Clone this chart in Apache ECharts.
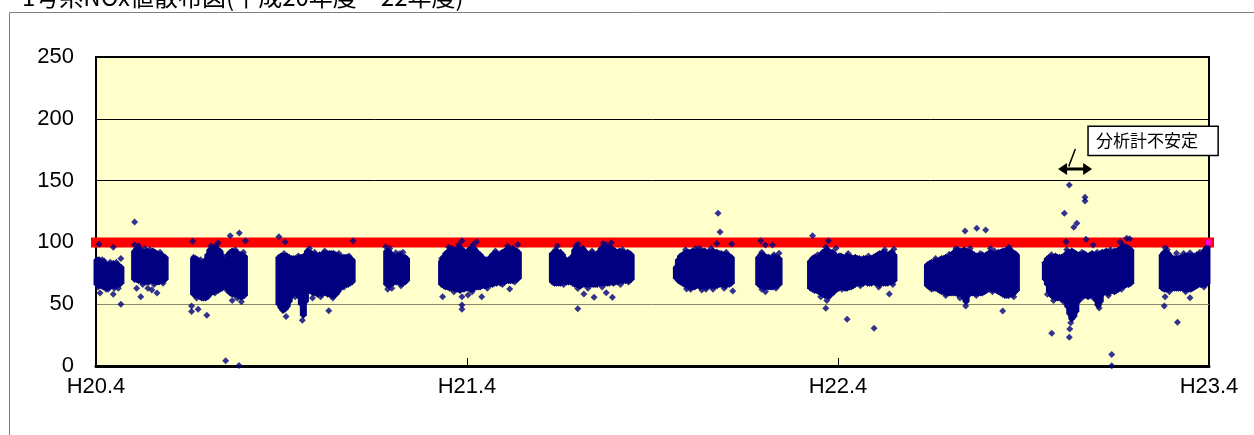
<!DOCTYPE html>
<html><head><meta charset="utf-8">
<script src="https://cdn.jsdelivr.net/npm/echarts@6/dist/echarts.min.js"></script>
<style>html,body{margin:0;padding:0;background:#fff;}#c{width:1254px;height:435px;}</style>
</head><body><div id="c"></div>
<script>
// ---- data (x = days since H20.4.1, y = NOx value) ----
const title = '1号系NOx値散布図(平成20年度～22年度)';
const xLabels = ['H20.4', 'H21.4', 'H22.4', 'H23.4'];
const yTicks = [0, 50, 100, 150, 200, 250];
const limitLine = [[0, 100], [1095, 100]];
const noteText = '分析計不安定';
const noteArrow = [[946.5, 159.4], [980, 159.4]];
const noteLeader = [[957, 161.5], [963.5, 175.6]];
const noteBox = [[976, 194], [1104, 170.4]];

// dense bands of hourly readings: [day, lowest, highest]
const c1 = [[1,66,86],[3,65,86],[5,65,84],[7,64,83],[9,64,83],[11,64,82],[13,64,82],[15,65,82],[17,65,83],[19,65,82],[21,66,82],[23,66,81],[24.5,67,80]];
const c2 = [[38,70,93],[40,70,95],[42,69,95],[44,69,94],[46,68,92],[48,68,92],[50,68,93],[52,68,92],[54,69,92],[56,69,93],[58,68,92],[60,68,91],[62,68,90],[64,69,90],[66,69,89],[68,70,88]];
const c3 = [[96,58,87],[98,57,87],[100,57,86],[102,56,84],[104,55,79],[106,55,79],[108,55,86],[110,56,90],[112,58,94],[114,60,95],[116,60,96],[118,61,95],[120,61,94],[122,62,93],[124,63,87],[126,65,85],[128,64,86],[130,62,90],[132,59,92],[134,58,93],[136,58,92],[138,58,92],[140,57,91],[142,56,90],[144,56,90],[146,57,89]];
const c4 = [[180,50,88],[182,47,89],[184,45,89],[186,46,89],[188,48,89],[190,52,88],[192,57,87],[194,58,87],[196,59,87],[198,58,87],[200,56,88],[202,50,88],[204,41,88],[206,52,90],[208,60,93],[210,61,92],[212,60,91],[214,59,90],[216,59,90],[218,58,89],[220,59,90],[222,58,90],[224,59,91],[226,59,91],[228,58,91],[230,58,91],[232,57,91],[234,57,91],[236,58,90],[238,60,89],[240,63,88],[242,64,88],[244,66,88],[246,66,88],[248,66,88],[250,67,87],[252,68,86]];
const c5 = [[286,66,93],[288,65,93],[290,66,91],[292,67,89],[294,68,88],[296,68,89],[298,68,89],[300,67,89],[302,67,88],[304,68,88],[305.5,69,87]];
const c6 = [[340,66,85],[342,65,88],[344,64,91],[346,64,92],[348,63,94],[350,63,95],[352,63,94],[354,62,94],[356,62,95],[358,61,96],[360,62,94],[362,62,93],[364,63,92],[366,63,93],[368,62,95],[370,62,96],[372,63,95],[374,64,93],[376,64,91],[378,64,90],[380,65,88],[382,65,86],[384,65,86],[386,66,86],[388,66,88],[390,66,90],[392,67,91],[394,67,91],[396,68,90],[398,67,91],[400,68,92],[402,68,93],[404,69,94],[406,69,95],[408,69,94],[410,69,95],[412,70,94],[414,70,93],[415.5,71,92]];
const c7 = [[449,68,91],[451,67,92],[453,67,93],[455,67,92],[457,67,92],[459,68,90],[461,68,87],[463,68,85],[465,68,86],[467,68,86],[469,67,89],[471,66,94],[473,66,95],[475,65,95],[477,65,94],[479,66,95],[481,66,93],[483,66,91],[485,66,90],[487,66,91],[489,66,91],[491,66,90],[493,66,91],[495,67,92],[497,67,95],[499,67,96],[501,67,96],[503,67,95],[505,67,96],[507,68,95],[509,67,94],[511,68,93],[513,68,92],[515,69,93],[517,69,92],[519,69,92],[521,69,91],[523,69,92],[525,70,91],[526.5,70,90]];
const c8 = [[571,71,80],[573,69,86],[575,68,89],[577,67,90],[579,66,91],[581,65,92],[583,65,92],[585,64,92],[587,64,93],[589,64,92],[591,65,93],[593,65,93],[595,64,92],[597,65,93],[599,65,93],[601,64,92],[603,65,92],[605,65,92],[607,65,93],[609,65,92],[611,65,92],[613,66,91],[615,66,91],[617,66,90],[619,65,90],[621,66,90],[623,66,89],[625,67,88]];
const c9 = [[652,66,88],[654,65,90],[656,64,90],[658,64,89],[660,64,88],[662,64,88],[664,64,87],[666,64,88],[668,65,88],[670,65,88],[672,66,87]];
const c10 = [[703,63,85],[705,62,87],[707,61,88],[709,61,87],[711,60,88],[713,59,90],[715,58,92],[717,57,93],[719,57,94],[721,56,93],[723,58,92],[725,59,92],[727,61,90],[729,62,88],[731,63,89],[733,64,89],[735,64,88],[737,63,88],[739,63,89],[741,64,88],[743,64,88],[745,65,87],[747,66,88],[749,67,87],[751,67,87],[753,67,86],[755,67,87],[757,68,87],[759,67,86],[761,67,87],[763,67,87],[765,68,88],[767,67,89],[769,67,90],[771,66,91],[773,67,91],[775,67,92],[777,67,91],[779,67,90],[781,68,91],[783,68,92],[785,69,90]];
const c11 = [[818,65,82],[820,64,83],[822,64,84],[824,63,84],[826,63,85],[828,62,85],[830,61,86],[832,60,87],[834,60,87],[836,59,88],[838,59,87],[840,59,89],[842,59,90],[844,59,92],[846,59,93],[848,58,94],[850,59,93],[852,58,93],[854,55,94],[856,52,93],[858,57,92],[860,59,92],[862,59,91],[864,59,90],[866,59,89],[868,59,89],[870,59,89],[872,59,90],[874,60,89],[876,61,90],[878,62,91],[880,62,92],[882,62,91],[884,62,90],[886,61,91],[888,60,92],[890,59,92],[892,58,93],[894,57,93],[896,57,94],[898,57,93],[900,58,93],[902,58,92],[904,60,91],[905.5,61,90]];
const c12 = [[934,70,84],[936,66,87],[938,60,88],[940,57,88],[942,56,88],[944,55,89],[946,55,88],[948,55,88],[950,54,88],[952,54,89],[954,53,90],[956,48,92],[958,42,92],[960,38,93],[962,40,92],[964,44,91],[966,52,90],[968,56,90],[970,57,89],[972,57,91],[974,57,90],[976,56,89],[978,57,90],[980,58,91],[982,57,90],[984,53,90],[986,49,90],[988,52,91],[990,58,92],[992,60,92],[994,60,93],[996,59,92],[998,60,92],[1000,61,91],[1002,60,93],[1004,61,93],[1006,62,94],[1008,64,95],[1010,65,96],[1012,65,95],[1014,66,96],[1016,66,95],[1018,67,94]];
const c13 = [[1049,63,90],[1051,62,92],[1053,62,92],[1055,62,91],[1057,63,89],[1059,63,87],[1061,63,87],[1063,63,87],[1065,63,87],[1067,63,88],[1069,63,88],[1071,62,89],[1073,62,89],[1075,62,89],[1077,62,89],[1079,63,89],[1081,64,89],[1083,65,90],[1085,66,90],[1087,66,89],[1089,66,91],[1091,66,94],[1093,67,96]];

// individual readings outside the dense bands: [day, value]
const scattered = [
  [3,98.5],[17,96],[24.5,87],[4,59],[17,58],[24.5,50],[1,70],[2,64],[12,62],[22,63],[6,86],[8,85],[14,84],[20,84],[10,62],[18,63],
  [38,116.5],[38,98],[40,63],[44,56],[51,63],[55,61.5],[60,59],[59,91],[66,87],[48,95],[42,97],[53,94],[63,92],[46,66],[57,66],[66,67],
  [95,101],[132,105.4],[141,107.6],[147,101.4],[120,99.8],[94,48.5],[94,44],[100.5,46],[109,41],[127.6,4.3],[140.7,0.5],[96,88],[145,92],[118,97],[134,53],[143,52],
  [103,86],[113,97],[125,89],[137,94],[99,55],[117,59],[129,61],[139,55],
  [180,104.6],[186,100.3],[253,101.4],[187,40],[203,37],[229,44.7],[191,55],[213,55],[236,58],[250,68],[210,95],[247,84],
  [185,91],[199,89],[215,92],[225,93],[239,91],[249,89],[196,56],[221,56],[233,55],[244,64],
  [285,96.5],[295,91.7],[302,92],[287,62],[305,71],[289,95],[299,91],[291,63],[300,65],
  [360,101.4],[374.5,100.6],[415,98.4],[340,87],[341,56],[360,56],[360,49.4],[360,45.9],[366,57.4],[379.5,56],[407,62.3],[395,68],
  [347,96],[357,98],[371,98],[393,93],[405,97],[352,60],[370,60],[385,63],[400,66],[412,68],
  [454,97],[474,98.7],[499,99.2],[507,99.8],[474,62.8],[480,58.3],[490,55.6],[474,46.4],[502,59.3],[508,55.6],
  [452,94],[472,97],[488,93],[502,98],[518,94],[460,66],[484,63],[498,64],[516,66],[524,68],
  [612,123.5],[614,108.4],[610.7,99.2],[625.5,98.7],[581,62.3],[596,61.5],[607,62],[626.5,60.7],[590,95],
  [580,94],[594,95],[605,95],[620,92],[585,62],[600,62],[618,63],
  [654,101.4],[658.6,97.9],[665.6,97.9],[672,91.2],[658.6,60],[655,92],[667,90],[655,62],[669,63],
  [705,105.4],[720.5,101.4],[728,95.2],[785,94.4],[718,46.7],[739,37.8],[765.5,30.5],[780.5,58.3],[719,53],
  [710,90],[718,96],[740,91],[760,89],[776,94],[713,56],[734,62],[752,65],[770,64],[784,66],
  [855,109.2],[866.5,111.4],[875.3,110],[839.5,90.4],[892,44.5],[855.6,48.5],[860,95],[880,95],[898,96],[850,55],
  [826,87],[846,95],[870,91],[884,93],[899,95],[822,62],[836,57],[866,57],[882,60],[903,56],
  [957.6,146.4],[973,136.5],[973,133.5],[952.7,123.5],[962,112.2],[965,115.4],[954.4,100.6],[974,102.5],[1014,103.3],[1017,103],[940.3,26.4],[957.6,23.2],[999.3,9.4],[999.3,0.3],[981,97.9],[1007.5,100.6],[959,35],[958,30],[936,58],[987,47],
  [940,90],[955,94],[970,92],[985,92],[998,94],[1010,98],[942,53],[952,52],[970,55],[980,56],[996,57],[1009,62],
  [1051.8,95.7],[1063,91.2],[1076.3,91.7],[1051.8,56],[1051,48.5],[1064,35.3],[1076.3,55.3],[1092.8,93.3],
  [1054,94],[1070,91],[1086,92],[1056,60],[1072,60],[1090,64]
];

const bands = [].concat(c1, c2, c3, c4, c5, c6, c7, c8, c9, c10, c11, c12, c13);
const NAVY = '#000080';

const chart = echarts.init(document.getElementById('c'), null, { renderer: 'canvas' });
chart.setOption({
  animation: false,
  backgroundColor: '#ffffff',
  grid: { left: 96, right: 45, top: 57, bottom: 69, show: true, backgroundColor: '#FFFFCC', borderColor: '#000', borderWidth: 2 },
  xAxis: {
    type: 'value', min: 0, max: 1095, interval: 365,
    axisLine: { show: true, lineStyle: { color: '#000', width: 3 } },
    axisTick: { show: true, inside: true, length: 8, lineStyle: { color: '#000', width: 1 } },
    splitLine: { show: false },
    axisLabel: {
      color: '#000', fontSize: 22, fontFamily: 'Liberation Sans', margin: 10,
      formatter: v => xLabels[Math.round(v / 365)]
    }
  },
  yAxis: {
    type: 'value', min: yTicks[0], max: yTicks[yTicks.length - 1], interval: 50,
    axisLine: { show: true, lineStyle: { color: '#000', width: 2 } },
    axisTick: { show: false },
    splitLine: { show: true, lineStyle: { color: ['#000', '#8a8a6a', '#000', '#000', '#000', '#000'], width: 1 } },
    axisLabel: { color: '#000', fontSize: 22, fontFamily: 'Liberation Sans', margin: 22 }
  },
  series: [
    {
      type: 'line', data: limitLine, symbol: 'none', clip: false, z: 2,
      lineStyle: { color: '#FF0000', width: 10, cap: 'square' }
    },
    {
      type: 'custom', data: bands, z: 3, encode: { x: 0, y: [1, 2] },
      renderItem: function (params, api) {
        const d = api.value(0), lo = api.value(1), hi = api.value(2);
        const pl = api.coord([d, lo]), ph = api.coord([d, hi]);
        const h = 3.5;
        return {
          type: 'polygon',
          shape: { points: [[ph[0], ph[1] - h], [ph[0] + h, ph[1]], [pl[0] + h, pl[1]], [pl[0], pl[1] + h], [pl[0] - h, pl[1]], [ph[0] - h, ph[1]]] },
          style: { fill: NAVY }
        };
      }
    },
    {
      type: 'scatter', data: scattered, symbol: 'diamond', symbolSize: 7, z: 4,
      itemStyle: { color: NAVY }
    },
    {
      type: 'scatter', data: [limitLine[1]], symbol: 'rect', symbolSize: 6, z: 5, clip: false,
      itemStyle: { color: '#FF00FF' }
    }
  ]
});

function px(p) { return chart.convertToPixel({ gridIndex: 0 }, p); }
const a0 = px(noteArrow[0]), a1 = px(noteArrow[1]);
const l0 = px(noteLeader[0]), l1 = px(noteLeader[1]);
const b0 = px(noteBox[0]), b1 = px(noteBox[1]);
const head = 9, hw = 6;
chart.setOption({
  graphic: [
    { type: 'rect', silent: true, z: -10, shape: { x: 9.5, y: 12.5, width: 1400, height: 600 }, style: { fill: 'transparent', stroke: '#808080', lineWidth: 1 } },
    { type: 'text', silent: true, x: 22, y: -15, style: { text: title, font: '24px "Noto Sans CJK JP"', fill: '#000', textVerticalAlign: 'top' } },
    { type: 'line', silent: true, z: 100, shape: { x1: a0[0] + head - 1, y1: a0[1], x2: a1[0] - head + 1, y2: a1[1] }, style: { stroke: '#000', lineWidth: 3 } },
    { type: 'polygon', silent: true, z: 100, shape: { points: [[a0[0], a0[1]], [a0[0] + head, a0[1] - hw], [a0[0] + head, a0[1] + hw]] }, style: { fill: '#000' } },
    { type: 'polygon', silent: true, z: 100, shape: { points: [[a1[0], a1[1]], [a1[0] - head, a1[1] - hw], [a1[0] - head, a1[1] + hw]] }, style: { fill: '#000' } },
    { type: 'line', silent: true, z: 100, shape: { x1: l0[0], y1: l0[1], x2: l1[0], y2: l1[1] }, style: { stroke: '#000', lineWidth: 1.5 } },
    { type: 'rect', silent: true, z: 100, shape: { x: b0[0], y: b0[1], width: b1[0] - b0[0], height: b1[1] - b0[1] }, style: { fill: '#fff', stroke: '#000', lineWidth: 1.5 } },
    { type: 'text', silent: true, z: 101, x: b0[0] + 8, y: (b0[1] + b1[1]) / 2, style: { text: noteText, font: '17px "Noto Sans CJK JP"', fill: '#000', textVerticalAlign: 'middle' } }
  ]
});
</script></body></html>
